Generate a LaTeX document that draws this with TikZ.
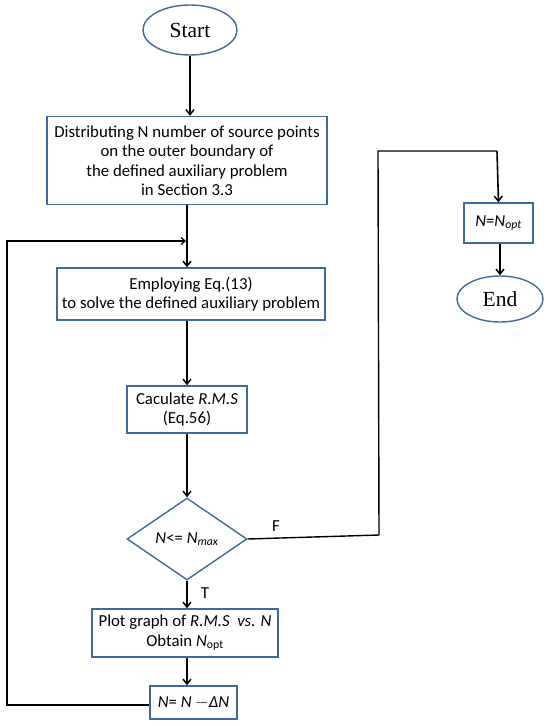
\documentclass[tikz,border=0pt]{standalone}
\usepackage{fontspec}
\setmainfont{Carlito}
\newfontfamily\timesf{Liberation Serif}
\usetikzlibrary{shapes.geometric,arrows.meta}
\definecolor{boxblue}{RGB}{65,105,160}
\tikzset{
  x=1pt,y=-1pt,
  box/.style={draw=boxblue,line width=1.4pt,fill=white,rectangle,inner sep=0pt,align=center,
    font=\fontsize{16.8}{19.5}\selectfont},
  term/.style={draw=boxblue,line width=1.4pt,ellipse,inner sep=0pt,
    font=\timesf\fontsize{21.5}{24}\selectfont},
  dec/.style={draw=boxblue,line width=1.4pt,diamond,inner sep=0pt,aspect=1.46,
    font=\fontsize{16.8}{19.5}\selectfont},
  flow/.style={draw=black,line width=1.6pt,-{Straight Barb[length=5pt,width=8pt,line width=1.5pt]}},
  loopline/.style={draw=black,line width=1.4pt},
  lbl/.style={font=\fontsize{16.8}{19.5}\selectfont,inner sep=0pt}
}
\begin{document}
\begin{tikzpicture}
\useasboundingbox (0,0) rectangle (550,726);
\node[term,minimum width=94pt,minimum height=50pt] (start) at (190,30) {Start};
\node[box,minimum width=280pt,minimum height=88pt] (b1) at (187,160.5)
  {Distributing N number of source points\\on the outer boundary of\\the defined auxiliary problem\\in Section 3.3};
\node[box,minimum width=268pt,minimum height=52pt] (b2) at (191,294)
  {Employing Eq.(13)\\to solve the defined auxiliary problem};
\node[box,minimum width=120pt,minimum height=47pt] (b3) at (187,409.5)
  {Caculate \textit{R.M.S}\\(Eq.56)};
\node[dec,minimum width=120pt,minimum height=82pt] (d) at (187,539)
  {\textit{N}<= \textit{N\textsubscript{max}}};
\node[box,minimum width=186pt,minimum height=48pt] (b5) at (185,633)
  {Plot graph of \textit{R.M.S\ \ vs. N}\\Obtain \textit{N}\textsubscript{opt}};
\node[box,minimum width=87pt,minimum height=33pt] (b6) at (193.5,702.5)
  {\textit{N}= \textit{N} $-$\textit{ΔN}};
\node[box,minimum width=69pt,minimum height=40pt] (b4) at (498.5,223)
  {\textit{N}=\textit{N\textsubscript{opt}}};
\node[term,minimum width=86pt,minimum height=46pt] (end) at (500,299) {End};

\coordinate (m1) at (187,241);
\coordinate (lp1) at (7,705);
\coordinate (lp2) at (7,241);
\coordinate (fr) at (379,535);
\coordinate (ft) at (378,151);
\coordinate (fa) at (497,151);

\draw[flow] (start.south) -- (start.south |- b1.north);
\draw[flow] (b1.south -| m1) -- (m1 |- b2.north);
\draw[loopline,-{Straight Barb[length=4pt,width=7pt,line width=1.2pt]}] (b6.west |- lp1) -- (lp1) -- (lp2) -- ([xshift=-1pt]m1);
\draw[flow] (b2.south -| b3.north) -- (b3.north);
\draw[flow] (b3.south) -- (d.north);
\draw[flow] (d.south) -- (b5.north -| d.south);
\draw[flow] (b5.south -| d.south) -- (b6.north -| d.south);
\draw[loopline] (d.east) -- (fr) -- (ft) -- (fa);
\draw[flow] (fa) -- (b4.north);
\draw[flow] (b4.south -| end.north) -- (end.north);
\node[lbl] (lf) at (276,526) {F};
\node[lbl] (lt) at (205,593) {T};
\end{tikzpicture}
\end{document}
